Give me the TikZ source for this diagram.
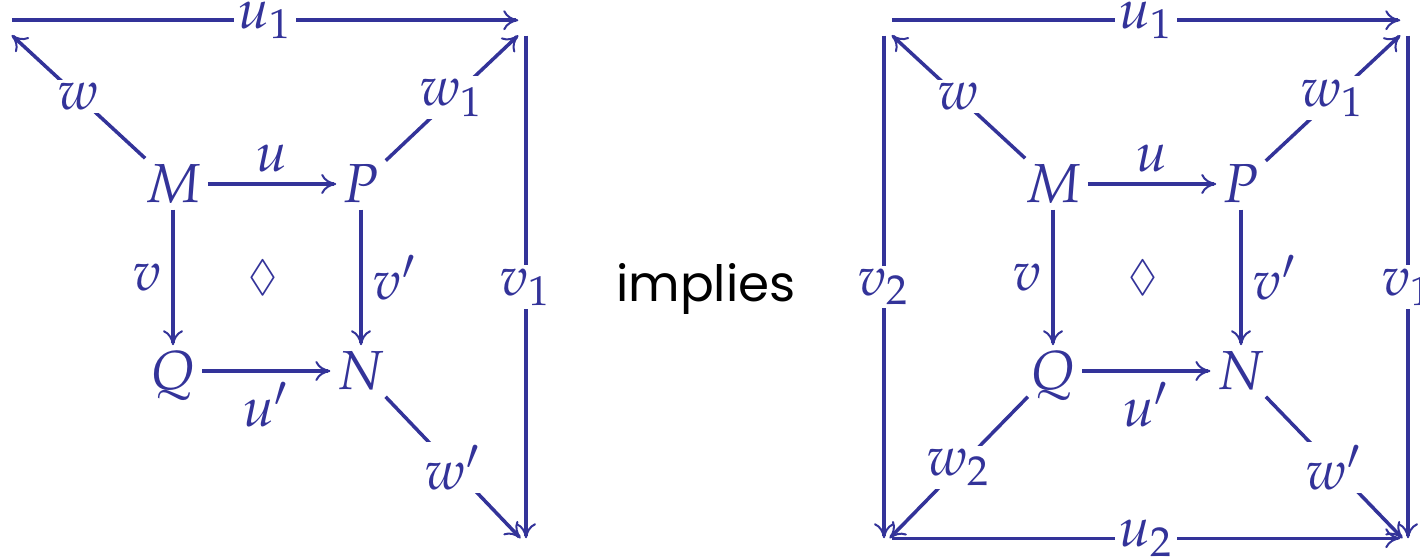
\documentclass[tikz,border=0pt]{standalone}
\usepackage[no-math]{fontspec}
\usepackage{mathpazo}
\usepackage{amssymb}
\usetikzlibrary{arrows.meta}
\newfontfamily\implfont{Poppins}
\definecolor{dblue}{RGB}{51,51,153}
\begin{document}
\begin{tikzpicture}[x=0.2pt,y=-0.2pt, line width=0.7pt, color=dblue,
  obj/.style={inner sep=1pt, font=\fontsize{11}{13}\selectfont, anchor=base, text height=7.6pt, text depth=0pt},
  lab/.style={inner sep=2pt, font=\fontsize{11}{13}\selectfont},
  onl/.style={inner sep=0.6pt, fill=white, font=\fontsize{11}{13}\selectfont},
  corner/.style={inner sep=0pt, minimum width=2.4pt, minimum height=2.4pt},
  cornerb/.style={inner sep=0pt, minimum width=2.4pt, minimum height=1.6pt},
  ar/.style={-{To[length=3pt,width=4pt,line width=0.4pt]}}]
\useasboundingbox (0,0) rectangle (1420,557);
% left diagram
\node[obj] (M) at (173,203) {$M$};
\node[obj] (P) at (361,203) {$P$};
\node[obj] (Q) at (173,390) {$Q$};
\node[obj] (N) at (361,390) {$N$};
\node[corner] (TL) at (4,28) {};
\node[corner] (TR) at (526,28) {};
\node[cornerb] (BR) at (526,544) {};
\draw[ar] (M) -- node[lab,above]{$u$} (P);
\draw[ar] (M) -- node[lab,left]{$v$} (Q);
\draw[ar] (P) -- node[lab,right]{$v'$} (N);
\draw[ar] (Q) -- node[lab,below]{$u'$} (N);
\draw[ar] (TL.north east) -- node[onl]{$u_1$} (TR.north west);
\draw[ar] (M) -- node[onl]{$w$} (TL);
\draw[ar] (P) -- node[onl]{$w_1$} (TR);
\draw[ar] (TR.south) -- node[onl]{$v_1$} (BR.north);
\draw[ar] (N) -- node[onl]{$w'$} (BR);
\node[lab] (D1) at (263,278) {$\scriptstyle\lozenge$};
% middle
\node[anchor=base, black, inner sep=0pt, font=\implfont\fontsize{10}{12}\selectfont] (imp) at (706,302) {implies};
% right diagram
\node[obj] (M2) at (1053,203) {$M$};
\node[obj] (P2) at (1241,203) {$P$};
\node[obj] (Q2) at (1053,390) {$Q$};
\node[obj] (N2) at (1241,390) {$N$};
\node[corner] (TL2) at (884,28) {};
\node[corner] (TR2) at (1408,28) {};
\node[cornerb] (BL2) at (884,544) {};
\node[cornerb] (BR2) at (1408,544) {};
\draw[ar] (M2) -- node[lab,above]{$u$} (P2);
\draw[ar] (M2) -- node[lab,left]{$v$} (Q2);
\draw[ar] (P2) -- node[lab,right]{$v'$} (N2);
\draw[ar] (Q2) -- node[lab,below]{$u'$} (N2);
\draw[ar] (TL2.north east) -- node[onl]{$u_1$} (TR2.north west);
\draw[ar] (BL2.north east) -- node[onl]{$u_2$} (BR2.north west);
\draw[ar] (M2) -- node[onl]{$w$} (TL2);
\draw[ar] (P2) -- node[onl]{$w_1$} (TR2);
\draw[ar] (Q2) -- node[onl]{$w_2$} (BL2);
\draw[ar] (N2) -- node[onl]{$w'$} (BR2);
\draw[ar] (TL2.south) -- node[onl]{$v_2$} (BL2.north);
\draw[ar] (TR2.south) -- node[onl]{$v_1$} (BR2.north);
\node[lab] (D2) at (1143,278) {$\scriptstyle\lozenge$};
\end{tikzpicture}
\end{document}
